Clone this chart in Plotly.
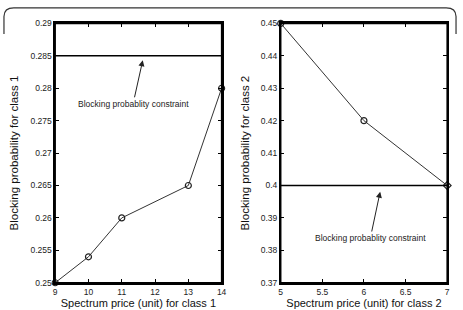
import plotly.graph_objects as go

# Data
price1 = [9, 10, 11, 13, 14]
block1 = [0.25, 0.254, 0.26, 0.265, 0.28]
constraint1 = 0.285
price2 = [5, 6, 7]
block2 = [0.45, 0.42, 0.40]
constraint2 = 0.40

y1_ticks = [0.25, 0.255, 0.26, 0.265, 0.27, 0.275, 0.28, 0.285, 0.29]
y1_labels = ["0.25", "0.255", "0.26", "0.265", "0.27", "0.275", "0.28", "0.285", "0.29"]
x1_ticks = [9, 10, 11, 12, 13, 14]
y2_ticks = [0.37, 0.38, 0.39, 0.40, 0.41, 0.42, 0.43, 0.44, 0.45]
y2_labels = ["0.37", "0.38", "0.39", "0.4", "0.41", "0.42", "0.43", "0.44", "0.45"]
x2_ticks = [5, 5.5, 6, 6.5, 7]
x2_labels = ["5", "5.5", "6", "6.5", "7"]

W, H = 463, 310
FONT = "Liberation Sans, Arial, sans-serif"

fig = go.Figure()

# Left panel
fig.add_trace(go.Scatter(x=[price1[0], price1[-1]], y=[constraint1, constraint1], mode="lines",
                         line=dict(color="#000", width=1.4), xaxis="x", yaxis="y", showlegend=False,
                         cliponaxis=False))
fig.add_trace(go.Scatter(x=price1, y=block1, mode="lines+markers",
                         line=dict(color="#333", width=1),
                         marker=dict(symbol="circle-open", size=6, color="#222", line=dict(width=1.2)),
                         xaxis="x", yaxis="y", showlegend=False, cliponaxis=False))
# Right panel
fig.add_trace(go.Scatter(x=[price2[0], price2[-1]], y=[constraint2, constraint2], mode="lines",
                         line=dict(color="#000", width=1.4), xaxis="x2", yaxis="y2", showlegend=False,
                         cliponaxis=False))
fig.add_trace(go.Scatter(x=price2, y=block2, mode="lines+markers",
                         line=dict(color="#333", width=1),
                         marker=dict(symbol=["circle-open", "circle-open", "diamond-open"], size=6,
                                     color="#222", line=dict(width=1.2)),
                         xaxis="x2", yaxis="y2", showlegend=False, cliponaxis=False))

axis_common = dict(showgrid=False, zeroline=False, showline=True, linecolor="#000", linewidth=1.5,
                   mirror="allticks", ticks="inside", ticklen=4, tickwidth=1, tickcolor="#000",
                   tickfont=dict(family=FONT, size=8.5, color="#222"))

y_dom = [1 - 287 / H, 1 - 19 / H]
fig.update_layout(
    width=W, height=H, margin=dict(l=0, r=0, t=0, b=0),
    paper_bgcolor="white", plot_bgcolor="white",
    xaxis=dict(domain=[54 / W, 223 / W], range=[9, 14], tickvals=x1_ticks, anchor="y",
               title=dict(text="Spectrum price (unit) for class 1", font=dict(family=FONT, size=11, color="#111"), standoff=1),
               **axis_common),
    yaxis=dict(domain=y_dom, range=[0.25, 0.29], tickvals=y1_ticks, ticktext=y1_labels, anchor="x",
               title=dict(text="Blocking probability for class 1", font=dict(family=FONT, size=11.5, color="#111"), standoff=9),
               **axis_common),
    xaxis2=dict(domain=[283 / W, 452 / W], range=[5, 7], tickvals=x2_ticks, ticktext=x2_labels, anchor="y2",
                title=dict(text="Spectrum price (unit) for class 2", font=dict(family=FONT, size=11, color="#111"), standoff=1),
                **axis_common),
    yaxis2=dict(domain=y_dom, range=[0.37, 0.45], tickvals=y2_ticks, ticktext=y2_labels, anchor="x2",
                title=dict(text="Blocking probability for class 2", font=dict(family=FONT, size=11.5, color="#111"), standoff=9),
                **axis_common),
    annotations=[
        dict(x=11.63, y=0.2843, xref="x", yref="y", ax=11.34, ay=0.2776, axref="x", ayref="y",
             text="Blocking probablity constraint", showarrow=True, arrowhead=2, arrowsize=1.2,
             arrowwidth=1, arrowcolor="#222", font=dict(family=FONT, size=8.5, color="#222")),
        dict(x=6.195, y=0.3981, xref="x2", yref="y2", ax=6.077, ay=0.3838, axref="x2", ayref="y2",
             text="Blocking probablity constraint", showarrow=True, arrowhead=2, arrowsize=1.2,
             arrowwidth=1, arrowcolor="#222", font=dict(family=FONT, size=8.5, color="#222")),
    ],
    shapes=[
        dict(type="path", xref="paper", yref="paper",
             path=f"M {2/W} {1-30/H} L {2/W} {1-12/H} Q {2/W} {1-3/H} {12/W} {1-3/H} "
                  f"L {451/W} {1-3/H} Q {461/W} {1-3/H} {461/W} {1-12/H} L {461/W} {1-30/H}",
             line=dict(color="#333", width=1.2)),
        dict(type="rect", xref="x domain", yref="y domain", x0=0, x1=1, y0=0, y1=1,
             line=dict(color="#000", width=1.5), layer="above"),
        dict(type="rect", xref="x2 domain", yref="y2 domain", x0=0, x1=1, y0=0, y1=1,
             line=dict(color="#000", width=1.5), layer="above"),
    ],
)

fig.write_html("out.html")
